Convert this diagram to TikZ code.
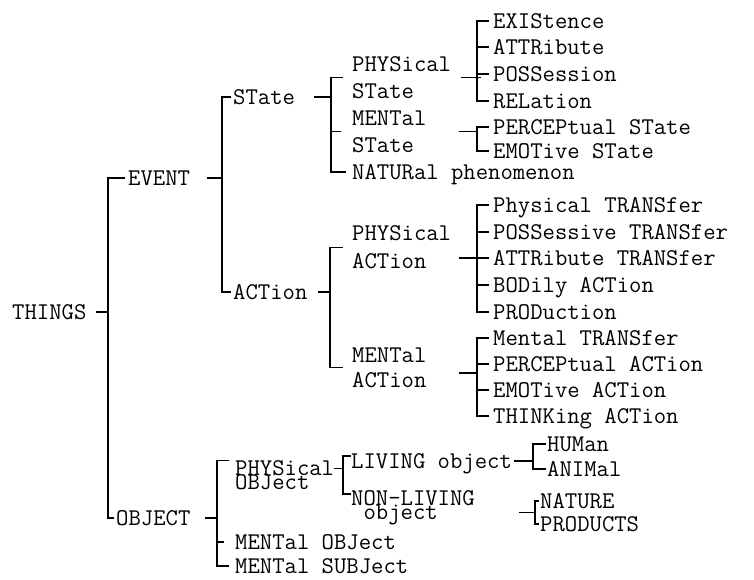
\documentclass[tikz,border=0pt]{standalone}
\usepackage{tikz}

\begin{document}
\begin{tikzpicture}[x=1pt, y=-1pt,
    lbl/.style={anchor=west, inner sep=0pt, font=\ttfamily\fontsize{24}{27}\selectfont, text height=14.5pt, text depth=0pt},
    lbltwo/.style={anchor=west, inner sep=0pt, font=\ttfamily\fontsize{24}{27}\selectfont, align=left},
    brk/.style={line width=1.4pt, line join=miter, line cap=rect}
  ]
    \useasboundingbox (0,0) rectangle (754,579);

    \node[lbl] (things) at (12,312) {THINGS};
    \node[lbl] (event) at (128,178) {EVENT};
    \node[lbl] (object) at (116,518) {OBJECT};

    \node[lbl] (stt) at (233,97) {STate};
    \node[lbl] (act) at (233,292) {ACTion};

    \node[lbltwo] (pst) at (352,77.5) {PHYSical\\STate};
    \node[lbltwo] (mst) at (352,131.5) {MENTal\\STate};
    \node[lbl] (nat) at (352,172) {NATURal phenomenon};
    \node[lbltwo] (pac) at (352,247.5) {PHYSical\\[1pt]ACTion};
    \node[lbltwo] (mac) at (352,367.5) {MENTal\\[-2pt]ACTion};

    \node[lbl] (exi) at (493,21) {EXIStence};
    \node[lbl] (att) at (493,47) {ATTRibute};
    \node[lbl] (pos) at (493,74) {POSSession};
    \node[lbl] (rel) at (493,101) {RELation};
    \node[lbl] (pcs) at (493,127) {PERCEPtual STate};
    \node[lbl] (ems) at (493,151) {EMOTive STate};

    \node[lbl] (ptr) at (493,205) {Physical TRANSfer};
    \node[lbl] (str) at (493,232) {POSSessive TRANSfer};
    \node[lbl] (atr) at (493,258) {ATTRibute TRANSfer};
    \node[lbl] (bod) at (493,285) {BODily ACTion};
    \node[lbl] (prd) at (493,312) {PRODuction};
    \node[lbl] (mtr) at (493,338) {Mental TRANSfer};
    \node[lbl] (pca) at (493,364) {PERCEPtual ACTion};
    \node[lbl] (ema) at (493,390) {EMOTive ACTion};
    \node[lbl] (thi) at (493,416) {THINKing ACTion};

    \node[lbltwo] (pob) at (235,475.5) {PHYSical\\[-13pt]OBJect};
    \node[lbl] (mob) at (235,542) {MENTal OBJect};
    \node[lbl] (msb) at (235,566) {MENTal SUBJect};
    \node[lbl] (liv) at (351,461) {LIVING object};
    \node[lbltwo] (nliv) at (351,507.6) {NON-LIVING\\[-13pt]\phantom{N}object};
    \node[lbl] (hum) at (547,444) {HUMan};
    \node[lbl] (ani) at (547,469) {ANIMal};
    \node[lbl] (nre) at (540,501) {NATURE};
    \node[lbl] (prs) at (540,524) {PRODUCTS};

    \coordinate (sp0) at (108,0);
    \coordinate (sp1) at (222,0);
    \coordinate (sp2) at (331,0);
    \coordinate (sp5) at (330,0);
    \coordinate (spL) at (477,0);
    \coordinate (sp8) at (217,0);
    \coordinate (sp9) at (343,0);
    \coordinate (sp10) at (533,0);
    \coordinate (sp11) at (535,0);

    \draw[brk] ([xshift=10]things.east) -- (sp0 |- things.east);
    \draw[brk] ([xshift=-4]event.west) -| (sp0 |- object.west) -- ([xshift=-3]object.west);

    \draw[brk] ([xshift=17]event.east) -- (sp1 |- event.east);
    \draw[brk] ([xshift=-3]stt.west) -| (sp1 |- act.west) -- ([xshift=-3]act.west);

    \draw[brk] ([xshift=19]stt.east) -- (sp2 |- stt.east);
    \draw[brk] ([xshift=-10]pst.west) -| (sp2 |- nat.west) -- ([xshift=-7]nat.west);
    \draw[brk] (sp2 |- mst.west) -- ([xshift=-12]mst.west);

    \draw[brk] ([xshift=-15]spL |- pst.east) -- ([xshift=3]spL |- pst.east);
    \draw[brk] ([xshift=-5]exi.west) -| (spL |- rel.west) -- ([xshift=-5]rel.west);
    \foreach \n in {att,pos}
      \draw[brk] (spL |- \n.west) -- ([xshift=-5]\n.west);

    \draw[brk] ([xshift=-17]spL |- mst.east) -- (spL |- mst.east);
    \draw[brk] ([xshift=-5]pcs.west) -| (spL |- ems.west) -- ([xshift=-5]ems.west);

    \draw[brk] ([xshift=11]act.east) -- (sp5 |- act.east);
    \draw[brk] ([xshift=-10]pac.west) -| (sp5 |- mac.west) -- ([xshift=-10]mac.west);

    \draw[brk] ([xshift=-17]spL |- atr.west) -- (spL |- atr.west);
    \draw[brk] ([xshift=-5]ptr.west) -| (spL |- prd.west) -- ([xshift=-5]prd.west);
    \foreach \n in {str,atr,bod}
      \draw[brk] (spL |- \n.west) -- ([xshift=-5]\n.west);

    \draw[brk, line width=2pt] ([xshift=-17,yshift=-5]spL |- mac.east) -- ([yshift=-5]spL |- mac.east);
    \draw[brk] ([xshift=-5]mtr.west) -| (spL |- thi.west) -- ([xshift=-5]thi.west);
    \foreach \n in {pca,ema}
      \draw[brk] (spL |- \n.west) -- ([xshift=-5]\n.west);

    \draw[brk] ([xshift=15]object.east) -- (sp8 |- object.east);
    \draw[brk] ([xshift=-7]pob.north west) -| (sp8 |- msb.west) -- ([xshift=-7]msb.west);
    \draw[brk] (sp8 |- mob.west) -- ([xshift=-12]mob.west);

    \draw[brk] ([xshift=-8]sp9 |- liv.south) -- (sp9 |- liv.south);
    \draw[brk] ([xshift=-1,yshift=5]liv.west) -| ([yshift=-4]sp9 |- nliv.north west) -- ([xshift=-1,yshift=-4]nliv.north west);

    \draw[brk] ([xshift=3]liv.east) -- (sp10 |- liv.east);
    \draw[brk] ([xshift=-2]hum.west) -| (sp10 |- ani.west) -- ([xshift=-2]ani.west);

    \draw[brk] ([xshift=45,yshift=-5]nliv.east) -- ([yshift=-5]sp11 |- nliv.east);
    \draw[brk] ([xshift=-2]nre.west) -| (sp11 |- prs.west) -- ([xshift=-2]prs.west);
\end{tikzpicture}
\end{document}
